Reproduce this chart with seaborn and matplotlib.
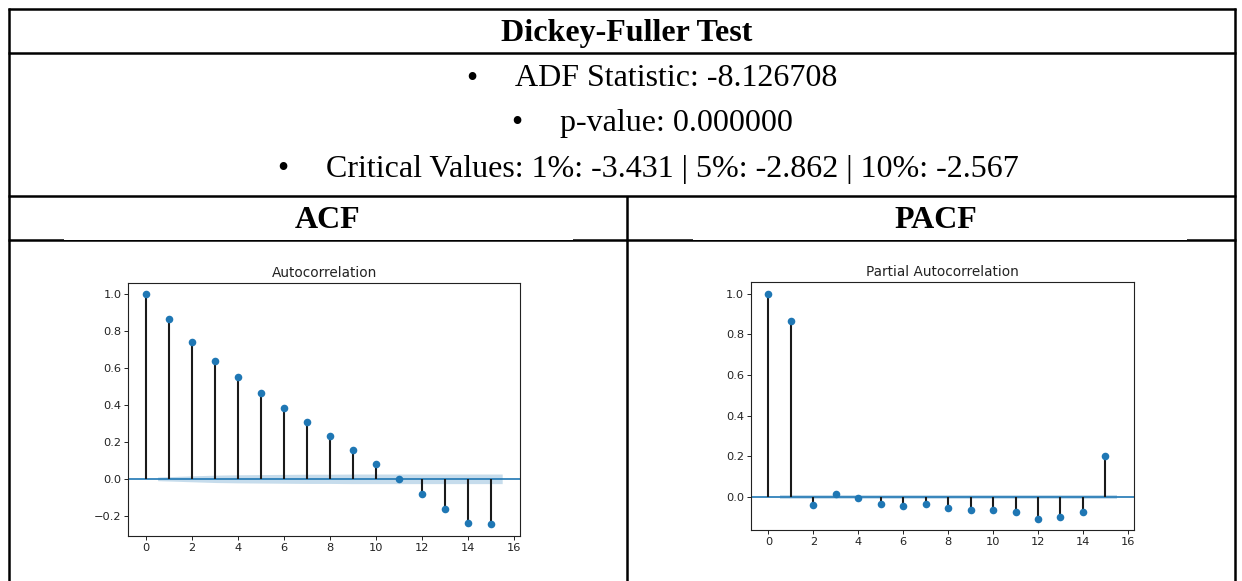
import numpy as np
import matplotlib
matplotlib.use("Agg")
import matplotlib.pyplot as plt
from matplotlib.patches import Rectangle
import seaborn as sns

# ---- summary of the unit-root test ----
header_title = "Dickey-Fuller Test"
bullet_lines = [
    "ADF Statistic: -8.126708",
    "p-value: 0.000000",
    "Critical Values: 1%: -3.431 | 5%: -2.862 | 10%: -2.567",
]
column_titles = ["ACF", "PACF"]

# ---- correlogram values ----
lags = list(range(16))
acf_vals = [1.0, 0.867, 0.742, 0.640, 0.552, 0.464, 0.384, 0.306,
            0.231, 0.156, 0.081, -0.002, -0.084, -0.165, -0.240, -0.247]
acf_band = [0.010, 0.016, 0.020, 0.022, 0.023, 0.024, 0.025, 0.025,
            0.026, 0.026, 0.026, 0.026, 0.026, 0.026, 0.026]
pacf_vals = [1.0, 0.865, -0.041, 0.016, -0.007, -0.034, -0.046, -0.034,
             -0.052, -0.062, -0.062, -0.075, -0.107, -0.096, -0.075, 0.200]
pacf_band = [0.0105] * 15
acf_yticks = [-0.2, 0.0, 0.2, 0.4, 0.6, 0.8, 1.0]
pacf_yticks = [0.0, 0.2, 0.4, 0.6, 0.8, 1.0]
xticks = list(range(0, 17, 2))

W, H = 1242, 581
C0 = "#1f77b4"

sns.set_style("ticks")
plt.rcParams["font.family"] = ["DejaVu Sans"]
plt.rcParams["axes.edgecolor"] = "#222222"
plt.rcParams["xtick.color"] = "#222222"
plt.rcParams["ytick.color"] = "#222222"
plt.rcParams["text.color"] = "#222222"

fig = plt.figure(figsize=(W / 100, H / 100), dpi=100)
fig.patch.set_facecolor("white")

# full-page layer in pixel units for the table frame and its text
canvas = fig.add_axes([0, 0, 1, 1])
canvas.set_xlim(0, W)
canvas.set_ylim(H, 0)
canvas.axis("off")

frame_lw = 1.8
left_x, right_x, mid_x = 8.7, 1234.5, 627.0
top_y = 8.7
for y in [top_y, 53.0, 196.0, 240.0]:
    canvas.plot([left_x - 1, right_x + 1], [y, y], color="black",
                lw=frame_lw, solid_capstyle="butt")
for x in [left_x, right_x]:
    canvas.plot([x, x], [top_y - 1, H], color="black", lw=frame_lw,
                solid_capstyle="butt")
canvas.plot([mid_x, mid_x], [196.0, H], color="black", lw=frame_lw,
            solid_capstyle="butt")
# the pasted plot images sit over the upper half of the rule below the headers
for x0, x1 in [(64, 573), (693, 1187)]:
    canvas.add_patch(Rectangle((x0, 237.5), x1 - x0, 2.3, facecolor="white",
                               edgecolor="none", zorder=5))

serif = ["Liberation Serif", "DejaVu Serif"]
canvas.text(627, 40.5, header_title, ha="center", va="baseline",
            fontsize=23, fontweight="bold", family=serif, color="black")
for txt, x0, yb in zip(bullet_lines, [515, 560, 326], [86.5, 131.5, 176.5]):
    canvas.text(x0 - 43, yb, "\u2022", ha="center", va="baseline",
                fontsize=23, family=serif, color="black")
    canvas.text(x0, yb, txt, ha="left", va="baseline", fontsize=23,
                family=serif, color="black")
for txt, xc in zip(column_titles, [328, 936]):
    canvas.text(xc, 227.5, txt, ha="center", va="baseline", fontsize=23,
                fontweight="bold", family=serif, color="black")


def px_axes(l, r, t, b):
    return fig.add_axes([l / W, 1 - b / H, (r - l) / W, (b - t) / H])


def correlogram(ax, vals, band, title, yticks):
    x = np.array(lags, dtype=float)
    v = np.array(vals)
    ax.vlines(x, 0, v, colors="#1a1a1a", lw=1.5, zorder=2)
    ax.axhline(0, color=C0, lw=1.2, zorder=1)
    sns.scatterplot(x=x, y=v, ax=ax, color=C0, s=30, linewidth=0,
                    zorder=3, legend=False)
    bx = x[1:].copy()
    bx[0] -= 0.5
    bx[-1] += 0.5
    b = np.array(band)
    ax.fill_between(bx, -b, b, color=C0, alpha=0.25, lw=0, zorder=1)
    ax.margins(0.05)
    ax.set_xticks(xticks)
    ax.set_yticks(yticks)
    ax.set_xlabel("")
    ax.set_ylabel("")
    ax.set_title(title, fontsize=9.8, pad=4.3)
    ax.tick_params(labelsize=8.2, length=2.6, width=0.7, pad=2.2)
    for s in ax.spines.values():
        s.set_visible(True)
        s.set_linewidth(0.8)


ax_acf = px_axes(128.3, 520.0, 282.5, 536.0)
correlogram(ax_acf, acf_vals, acf_band, "Autocorrelation", acf_yticks)

ax_pacf = px_axes(751.0, 1134.0, 282.3, 530.0)
correlogram(ax_pacf, pacf_vals, pacf_band, "Partial Autocorrelation",
            pacf_yticks)

fig.savefig("out.png", dpi=100, facecolor="white")
